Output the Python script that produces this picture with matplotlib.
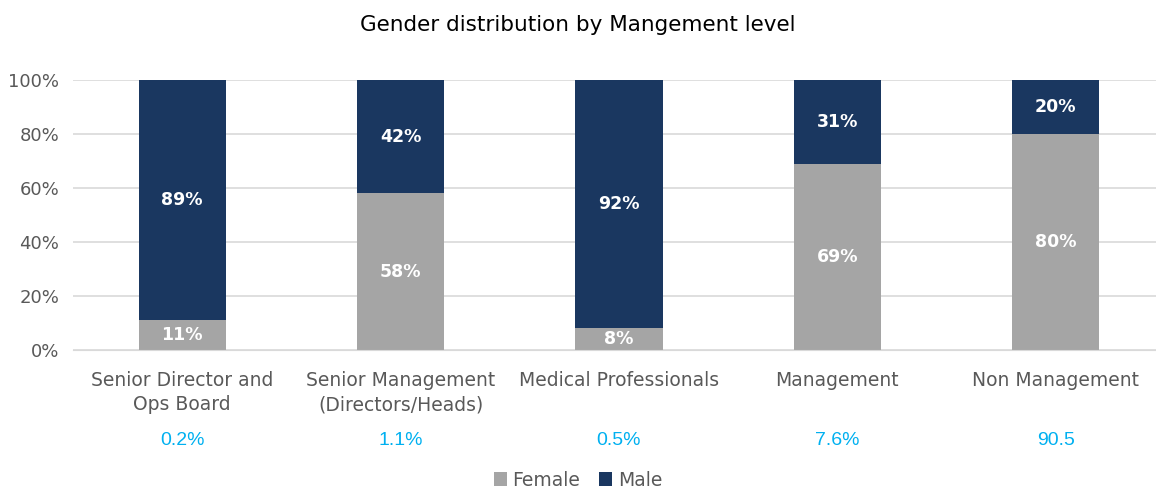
import matplotlib
matplotlib.use("Agg")
import matplotlib.pyplot as plt
import numpy as np

categories = ["Senior Director and\nOps Board", "Senior Management\n(Directors/Heads)",
              "Medical Professionals", "Management", "Non Management"]
female = [11, 58, 8, 69, 80]
male = [89, 42, 92, 31, 20]
shares = ["0.2%", "1.1%", "0.5%", "7.6%", "90.5"]

grey = "#A5A5A5"
navy = "#1A3760"
txt = "#595959"

plt.rcParams['font.family'] = ['DejaVu Sans']

fig = plt.figure(figsize=(11.56, 4.88), dpi=100)
ax = fig.add_axes([73/1156, 1-350/488, 1-73/1156, 270/488])

x = np.arange(len(categories))
w = 0.4
b1 = ax.bar(x, female, w, color=grey, label="Female", zorder=2)
b2 = ax.bar(x, male, w, bottom=female, color=navy, label="Male", zorder=2)

for i in range(len(x)):
    ax.text(x[i], female[i]/2, f"{female[i]}%", ha="center", va="center",
            color="white", fontsize=12.5, fontweight="bold")
    ax.text(x[i], female[i] + male[i]/2, f"{male[i]}%", ha="center", va="center",
            color="white", fontsize=12.5, fontweight="bold")
    ax.text(x[i], -33.5, shares[i], ha="center", va="center", color="#00B0F0",
            fontsize=14, family="Liberation Sans")

ax.set_xlim(-0.5, 4.5 - 9/218.5)
ax.set_ylim(0, 100)
ax.set_yticks(range(0, 101, 20))
ax.set_yticklabels([f"{v}%" for v in range(0, 101, 20)], color=txt, fontsize=13)
ax.set_xticks(x)
ax.set_xticklabels(categories, color=txt, fontsize=13.5, linespacing=1.35)
ax.tick_params(axis="x", length=0, pad=15)
ax.tick_params(axis="y", length=0, pad=10)
ax.grid(axis="y", color="#D9D9D9", linewidth=1.2, zorder=0)
for s in ax.spines.values():
    s.set_visible(False)
ax.spines["bottom"].set_visible(True)
ax.spines["bottom"].set_color("#D9D9D9")

fig.text(0.5, 1-25/488, "Gender distribution by Mangement level", ha="center", va="center",
         fontsize=15.5, color="black")

fig.legend(handles=[b1, b2], loc="center", bbox_to_anchor=(0.5, 1-480/488), ncol=2,
           frameon=False, fontsize=13.5, handlelength=0.7, handleheight=0.7,
           handletextpad=0.3, columnspacing=1.0, labelcolor=txt)

fig.savefig("out.png", dpi=100)
